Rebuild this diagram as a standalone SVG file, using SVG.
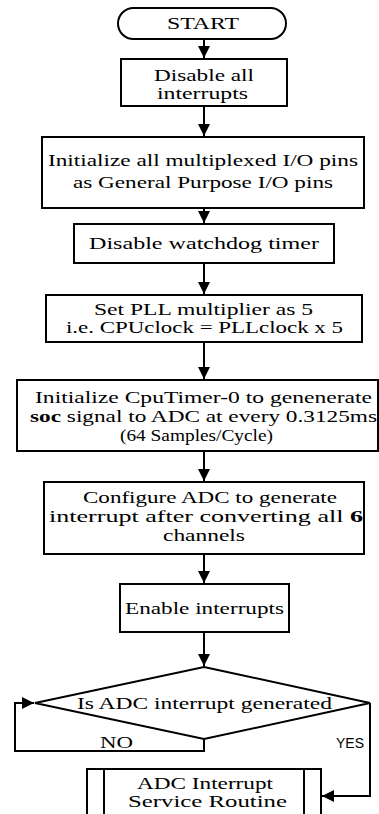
<svg xmlns="http://www.w3.org/2000/svg" width="379" height="814" viewBox="0 0 379 814">
<style>
.box{fill:#fff;stroke:#000;stroke-width:2}
.t{font-family:'Liberation Serif','DejaVu Serif','Noto Serif',serif;font-size:17px;fill:#000}
.s{font-family:'Liberation Sans','DejaVu Sans',sans-serif;font-size:15px;fill:#000}
.c{fill:none;stroke:#000;stroke-width:2}
</style>
<defs>
<marker id="ah" markerUnits="userSpaceOnUse" markerWidth="12" markerHeight="12" viewBox="0 0 12 12" refX="12" refY="6" orient="auto">
<path d="M0,0 L12,6 L0,12 Z" fill="#000"/>
</marker>
</defs>
<rect width="379" height="814" fill="#fff"/>
<g id="connectors">
<line class="c" x1="204" y1="39" x2="204" y2="58" marker-end="url(#ah)"/>
<line class="c" x1="204" y1="106" x2="204" y2="136" marker-end="url(#ah)"/>
<line class="c" x1="204" y1="208" x2="204" y2="223" marker-end="url(#ah)"/>
<line class="c" x1="204" y1="263" x2="204" y2="294" marker-end="url(#ah)"/>
<line class="c" x1="204" y1="342" x2="204" y2="379" marker-end="url(#ah)"/>
<line class="c" x1="204" y1="451" x2="204" y2="481" marker-end="url(#ah)"/>
<line class="c" x1="204" y1="554" x2="204" y2="583" marker-end="url(#ah)"/>
<line class="c" x1="204" y1="632" x2="204" y2="666" marker-end="url(#ah)"/>
<path class="c" d="M204,739 V751 H15 V703 H34" marker-end="url(#ah)"/>
<path class="c" d="M370,703 V796 H322" marker-end="url(#ah)"/>
<text class="t" font-family="Liberation Serif, DejaVu Serif, serif" x="100" y="748" textLength="33" lengthAdjust="spacingAndGlyphs">NO</text>
<text class="s" font-family="Liberation Sans, DejaVu Sans, sans-serif" x="336" y="748" textLength="28" lengthAdjust="spacingAndGlyphs">YES</text>
</g>
<g id="start" font-family="Liberation Serif, DejaVu Serif, serif">
<rect class="box" x="118" y="8" width="168" height="31" rx="15.5"/>
<text class="t" x="167" y="29" textLength="72" lengthAdjust="spacingAndGlyphs" style="font-size:16px">START</text>
</g>
<g id="disable-int" font-family="Liberation Serif, DejaVu Serif, serif">
<rect class="box" x="121" y="59" width="166" height="47"/>
<text class="t" x="154" y="81" textLength="100" lengthAdjust="spacingAndGlyphs">Disable all</text>
<text class="t" x="157" y="99" textLength="91" lengthAdjust="spacingAndGlyphs">interrupts</text>
</g>
<g id="init-io" font-family="Liberation Serif, DejaVu Serif, serif">
<rect class="box" x="42" y="137" width="322" height="71"/>
<text class="t" x="48" y="166" textLength="310" lengthAdjust="spacingAndGlyphs">Initialize all multiplexed I/O pins</text>
<text class="t" x="73" y="188" textLength="260" lengthAdjust="spacingAndGlyphs">as General Purpose I/O pins</text>
</g>
<g id="watchdog" font-family="Liberation Serif, DejaVu Serif, serif">
<rect class="box" x="74" y="224" width="260" height="39"/>
<text class="t" x="89" y="249" textLength="230" lengthAdjust="spacingAndGlyphs">Disable watchdog timer</text>
</g>
<g id="pll" font-family="Liberation Serif, DejaVu Serif, serif">
<rect class="box" x="46" y="295" width="316" height="47"/>
<text class="t" x="94" y="315" textLength="219" lengthAdjust="spacingAndGlyphs">Set PLL multiplier as 5</text>
<text class="t" x="66" y="333" textLength="277" lengthAdjust="spacingAndGlyphs">i.e. CPUclock = PLLclock x 5</text>
</g>
<g id="cputimer" font-family="Liberation Serif, DejaVu Serif, serif">
<rect class="box" x="17" y="380" width="361" height="71"/>
<text class="t" x="35" y="403" textLength="337" lengthAdjust="spacingAndGlyphs">Initialize CpuTimer-0 to genenerate</text>
<text class="t" x="30" y="422" textLength="347" lengthAdjust="spacingAndGlyphs"><tspan font-weight="bold">soc</tspan> signal to ADC at every 0.3125ms</text>
<text class="t" x="120" y="441" textLength="153" lengthAdjust="spacingAndGlyphs">(64 Samples/Cycle)</text>
</g>
<g id="config-adc" font-family="Liberation Serif, DejaVu Serif, serif">
<rect class="box" x="44" y="482" width="320" height="72"/>
<text class="t" x="83" y="503" textLength="254" lengthAdjust="spacingAndGlyphs">Configure ADC to generate</text>
<text class="t" x="49" y="522" textLength="314" lengthAdjust="spacingAndGlyphs">interrupt after converting all <tspan font-weight="bold">6</tspan></text>
<text class="t" x="163" y="541" textLength="82" lengthAdjust="spacingAndGlyphs">channels</text>
</g>
<g id="enable-int" font-family="Liberation Serif, DejaVu Serif, serif">
<rect class="box" x="120" y="584" width="169" height="48"/>
<text class="t" x="125" y="614" textLength="159" lengthAdjust="spacingAndGlyphs">Enable interrupts</text>
</g>
<g id="decision" font-family="Liberation Serif, DejaVu Serif, serif">
<polygon class="box" points="204,667 370,703 204,739 35,703"/>
<text class="t" x="77" y="709" textLength="255" lengthAdjust="spacingAndGlyphs">Is ADC interrupt generated</text>
</g>
<g id="isr" font-family="Liberation Serif, DejaVu Serif, serif">
<rect class="box" x="87" y="769" width="234" height="60"/>
<line class="c" x1="104" y1="769" x2="104" y2="830"/>
<line class="c" x1="304" y1="769" x2="304" y2="830"/>
<text class="t" x="137" y="789" textLength="136" lengthAdjust="spacingAndGlyphs">ADC Interrupt</text>
<text class="t" x="128" y="807" textLength="159" lengthAdjust="spacingAndGlyphs">Service Routine</text>
</g>
</svg>
